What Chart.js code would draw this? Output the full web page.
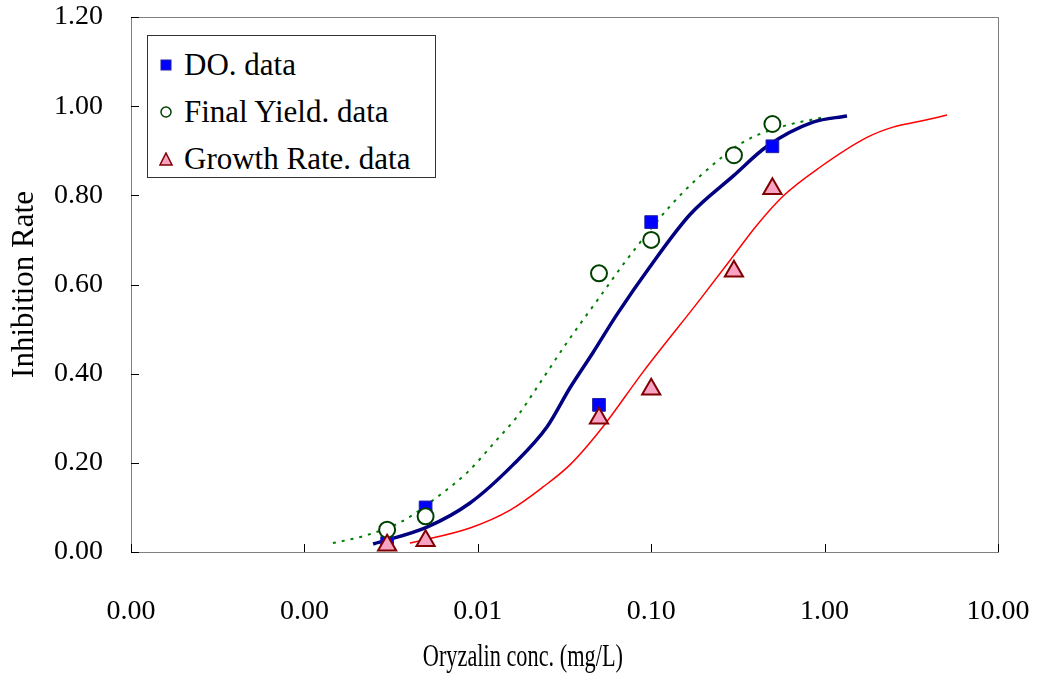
<!DOCTYPE html>
<html>
<head>
<meta charset="utf-8">
<script src="https://cdn.jsdelivr.net/npm/chart.js@4.4.1/dist/chart.umd.min.js"></script>
<style>
    body { margin: 0; background: #fff; }
    #wrap { position: relative; width: 1037px; height: 676px; }
    #legendBox {
        position: absolute; left: 147px; top: 35px; width: 287px; height: 141px;
        border: 1px solid #333; background: #fff;
        font-family: 'Liberation Serif', 'Times New Roman', serif; font-size: 31px; color: #000;
    }
    .legend-row { position: absolute; left: 0; height: 32px; display: flex; align-items: center; }
    .legend-row svg { margin-left: 11px; margin-right: 11px; }
</style>
</head>
<body>
<div id="wrap">
    <canvas id="chart" width="1037" height="676"></canvas>
    <div id="legendBox"></div>
</div>
<script>
// Observed data points
const doseX = [0.003, 0.005, 0.05, 0.1, 0.3, 0.5];
const doX = [0.003, 0.005, 0.05, 0.1, 0.5];
const doValues = [0.02, 0.10, 0.33, 0.74, 0.91];
const yieldValues = [0.05, 0.08, 0.625, 0.70, 0.89, 0.96];
const growthValues = [0.015, 0.025, 0.30, 0.365, 0.63, 0.815];

// Fitted curves
const doCurveX = [0.00249, 0.00509, 0.00902, 0.016, 0.0251, 0.0341, 0.0461, 0.0635, 0.0984, 0.1675, 0.2965, 0.466, 0.857, 1.346];
const doCurveY = [0.018, 0.056, 0.110, 0.196, 0.281, 0.369, 0.447, 0.533, 0.640, 0.757, 0.843, 0.910, 0.964, 0.978];
const yieldCurveX = [0.00146, 0.0023, 0.00371, 0.00605, 0.00867, 0.0129, 0.0168, 0.0229, 0.0327, 0.0507, 0.0724, 0.128, 0.191, 0.338, 0.553, 0.98];
const yieldCurveY = [0.020, 0.038, 0.070, 0.128, 0.178, 0.252, 0.303, 0.380, 0.470, 0.573, 0.656, 0.775, 0.843, 0.919, 0.953, 0.975];
const growthCurveX = [0.00406, 0.00902, 0.01535, 0.0238, 0.0341, 0.0527, 0.0898, 0.191, 0.2965, 0.397, 0.575, 0.94, 1.757, 2.48, 3.55, 5.08];
const growthCurveY = [0.020, 0.054, 0.094, 0.146, 0.196, 0.281, 0.404, 0.566, 0.663, 0.728, 0.798, 0.863, 0.930, 0.953, 0.966, 0.980];

// Axis ticks
const xTickValues = [0.0001, 0.001, 0.01, 0.1, 1, 10];
const yTickValues = [0, 0.2, 0.4, 0.6, 0.8, 1.0, 1.2];
const xTitle = 'Oryzalin conc. (mg/L)';

const FONT = "'Liberation Serif', 'Times New Roman', serif";

function toPoints(xs, ys) {
    return xs.map((x, i) => ({ x: x, y: ys[i] }));
}

// Plot frame + inward tick marks + narrow x axis title
const framePlugin = {
    id: 'frame',
    beforeDatasetsDraw(chart) {
        const { ctx, chartArea: a } = chart;
        ctx.save();
        ctx.strokeStyle = '#808080';
        ctx.lineWidth = 1;
        ctx.strokeRect(a.left + 0.5, a.top + 0.5, a.right - a.left, a.bottom - a.top);
        ctx.strokeStyle = '#000';
        ctx.beginPath();
        chart.scales.x.ticks.forEach(t => {
            const px = Math.round(chart.scales.x.getPixelForValue(t.value)) + 0.5;
            ctx.moveTo(px, a.bottom);
            ctx.lineTo(px, a.bottom - 8);
        });
        chart.scales.y.ticks.forEach(t => {
            const py = Math.round(chart.scales.y.getPixelForValue(t.value)) + 0.5;
            ctx.moveTo(a.left, py);
            ctx.lineTo(a.left + 8, py);
        });
        ctx.stroke();

        // x title, drawn condensed and a little left of centre like the original
        ctx.fillStyle = '#000';
        ctx.font = '31px ' + FONT;
        ctx.textAlign = 'center';
        ctx.textBaseline = 'middle';
        ctx.translate(a.left + (a.right - a.left) * 0.452, 658);
        ctx.scale(0.72, 1);
        ctx.fillText(xTitle, 0, 0);
        ctx.restore();
    }
};

const datasets = [
    {
        label: 'Growth Rate. data', data: toPoints(doseX, growthValues),
        pointStyle: 'triangle', pointRadius: 10.5, pointBackgroundColor: '#F8A3C4',
        pointBorderColor: '#800000', pointBorderWidth: 2, showLine: false
    },
    {
        label: 'Final Yield. data', data: toPoints(doseX, yieldValues),
        pointStyle: 'circle', pointRadius: 8, pointBackgroundColor: '#FFFFFF',
        pointBorderColor: '#004000', pointBorderWidth: 2, showLine: false
    },
    {
        label: 'DO. data', data: toPoints(doX, doValues),
        pointStyle: 'rect', pointRadius: 9, pointBackgroundColor: '#0000FF',
        pointBorderColor: '#2020A0', pointBorderWidth: 1, showLine: false
    },
    {
        label: 'DO. fit', data: toPoints(doCurveX, doCurveY), showLine: true,
        borderColor: '#000080', borderWidth: 3.5, pointRadius: 0, cubicInterpolationMode: 'monotone'
    },
    {
        label: 'Final Yield. fit', data: toPoints(yieldCurveX, yieldCurveY), showLine: true,
        borderColor: '#008000', borderWidth: 2, borderDash: [3, 6], pointRadius: 0, cubicInterpolationMode: 'monotone'
    },
    {
        label: 'Growth Rate. fit', data: toPoints(growthCurveX, growthCurveY), showLine: true,
        borderColor: '#FF0000', borderWidth: 1.5, pointRadius: 0, cubicInterpolationMode: 'monotone'
    }
];

const chart = new Chart(document.getElementById('chart'), {
    type: 'scatter',
    data: { datasets: datasets },
    options: {
        responsive: false,
        animation: false,
        layout: { padding: { left: 0, top: 17, right: 39, bottom: 0 } },
        plugins: {
            legend: { display: false },
            tooltip: { enabled: false }
        },
        scales: {
            x: {
                type: 'logarithmic',
                min: 0.0001,
                max: 10,
                afterBuildTicks: scale => { scale.ticks = xTickValues.map(v => ({ value: v })); },
                afterFit: scale => {
                    scale.height = 124;
                    scale.paddingLeft = 0;
                    scale.paddingRight = 0;
                },
                grid: { drawOnChartArea: false, drawTicks: false },
                border: { color: '#000', width: 1 },
                ticks: {
                    padding: 43, color: '#000', maxRotation: 0, autoSkip: false,
                    font: { family: FONT, size: 28 },
                    callback: v => Number(v).toFixed(2)
                },
                title: { display: false }
            },
            y: {
                min: 0,
                max: 1.2,
                afterBuildTicks: scale => { scale.ticks = yTickValues.map(v => ({ value: v })); },
                afterFit: scale => {
                    scale.width = 131;
                    scale.paddingTop = 0;
                    scale.paddingBottom = 0;
                },
                grid: { drawOnChartArea: false, drawTicks: false },
                border: { color: '#000', width: 1 },
                ticks: {
                    padding: 28, color: '#000',
                    font: { family: FONT, size: 28 },
                    callback: v => Number(v).toFixed(2)
                },
                title: {
                    display: true, text: 'Inhibition Rate', color: '#000',
                    font: { family: FONT, size: 31 }, padding: { top: 6, bottom: 0 }
                }
            }
        }
    },
    plugins: [framePlugin]
});

// HTML legend for the three observed series
const markerSvg = {
    'DO. data': '<svg width="14" height="14"><rect x="2" y="2" width="10" height="10" fill="#0000FF" stroke="#2020A0" stroke-width="1"/></svg>',
    'Final Yield. data': '<svg width="14" height="14"><circle cx="7" cy="7" r="5" fill="#fff" stroke="#004000" stroke-width="1.5"/></svg>',
    'Growth Rate. data': '<svg width="14" height="14"><polygon points="7,1 13,13 1,13" fill="#F8A3C4" stroke="#800000" stroke-width="1.5"/></svg>'
};
const legendOrder = ['DO. data', 'Final Yield. data', 'Growth Rate. data'];
document.getElementById('legendBox').innerHTML = legendOrder.map((name, i) =>
    `<div class="legend-row" style="top:${13 + i * 47}px">${markerSvg[name]}<span>${name}</span></div>`
).join('');
</script>
</body>
</html>
